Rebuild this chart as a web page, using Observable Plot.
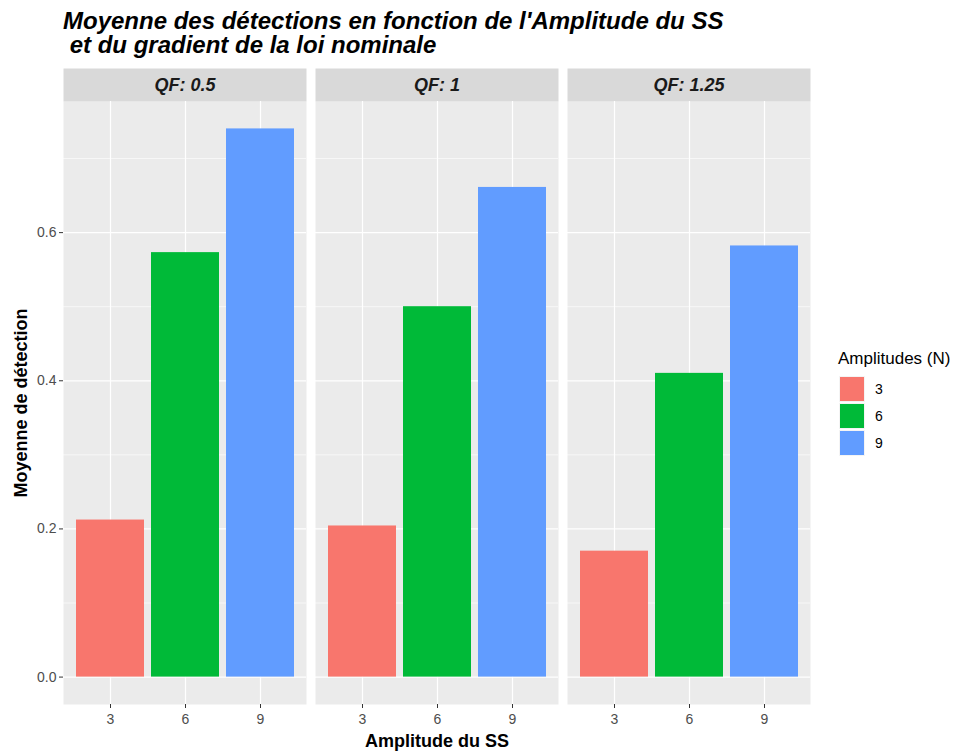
<!DOCTYPE html>
<html>
<head>
<meta charset="utf-8">
<script src="https://cdn.jsdelivr.net/npm/d3@7"></script>
<script src="https://cdn.jsdelivr.net/npm/@observablehq/plot@0.6"></script>
<style>
  html, body { margin: 0; padding: 0; background: #fff; }
  body { width: 957px; height: 754px; position: relative; overflow: hidden; font-family: "Liberation Sans", Arial, sans-serif; }
  #title { position: absolute; left: 63px; top: 9px; font-size: 24px; line-height: 24px; font-weight: bold; font-style: italic; color: #000; white-space: pre; }
  #chart { position: absolute; left: 0; top: 62px; }
  #legend { position: absolute; left: 838px; top: 348px; }
  #legend .lt { font-size: 17px; color: #000; height: 22px; line-height: 22px; margin-bottom: 5px; }
  #legend .row { display: flex; align-items: center; height: 27px; }
  #legend .sw { width: 26px; height: 26px; margin-left: 1px; box-sizing: border-box; border: 1px solid #f4f4f4; }
  #legend .lb { font-size: 14px; color: #000; margin-left: 10px; }
</style>
</head>
<body>
<div id="title"></div>
<div id="chart"></div>
<div id="legend"></div>
<script>
// ---- data ----
const qfLabels = ["0.5", "1", "1.25"];
const amplitudes = [3, 6, 9];
const colors = ["#F8766D", "#00BA38", "#619CFF"];
const valuesQF05 = [0.212, 0.573, 0.740];
const valuesQF1 = [0.204, 0.500, 0.661];
const valuesQF125 = [0.170, 0.410, 0.582];
const yTicks = [0, 0.2, 0.4, 0.6];
const yMinorTicks = [0.1, 0.3, 0.5, 0.7];
const titleText = "Moyenne des détections en fonction de l'Amplitude du SS\n et du gradient de la loi nominale";
const xTitle = "Amplitude du SS";
const yTitle = "Moyenne de détection";
const legendTitle = "Amplitudes (N)";

const seriesByQF = [valuesQF05, valuesQF1, valuesQF125];
const data = [];
qfLabels.forEach((qf, i) => amplitudes.forEach((a, j) => data.push({qf, amp: a, value: seriesByQF[i][j]})));

document.getElementById("title").textContent = titleText;

// layout
const W = 957, H = 692, mT = 39, mB = 50, mL = 62, mR = 146;
const panelH = H - mT - mB;
const stripH = 33;
const maxV = d3.max(data, d => d.value);
const yDomain = [-0.05 * maxV, maxV * 1.05];

const chart = Plot.plot({
  width: W, height: H,
  marginTop: mT, marginBottom: mB, marginLeft: mL, marginRight: mR,
  style: { fontFamily: "Liberation Sans, Arial, sans-serif", background: "transparent" },
  fx: { domain: qfLabels, padding: 0.0368, axis: null, label: null },
  x: { domain: amplitudes, paddingInner: 0.1, paddingOuter: 0.15, label: null },
  y: { domain: yDomain, label: null },
  color: { domain: amplitudes, range: colors },
  marks: [
    Plot.frame({ fill: "#EBEBEB", stroke: null }),
    Plot.frame({ fill: "#D9D9D9", stroke: null, insetTop: -stripH, insetBottom: panelH }),
    Plot.gridY(yMinorTicks, { stroke: "#ffffff", strokeOpacity: 1, strokeWidth: 0.6 }),
    Plot.gridY(yTicks, { stroke: "#ffffff", strokeOpacity: 1, strokeWidth: 1.2 }),
    Plot.gridX(amplitudes, { stroke: "#ffffff", strokeOpacity: 1, strokeWidth: 1.2 }),
    Plot.barY(data, { fx: "qf", x: "amp", y: "value", fill: d => d.amp }),
    Plot.axisY(yTicks, { anchor: "left", tickFormat: d3.format(".1f"), tickSize: 4, tickPadding: 3, fontSize: 14, fill: "#4D4D4D", stroke: "#333333", label: null }),
    Plot.axisX(amplitudes, { anchor: "bottom", tickSize: 4, tickPadding: 6, fontSize: 14, fill: "#4D4D4D", stroke: "#333333", label: null }),
    Plot.text(qfLabels, { fx: d => d, text: d => "QF: " + d, frameAnchor: "top", lineAnchor: "middle", dy: -stripH / 2, fontSize: 18, fontWeight: "bold", fontStyle: "italic", fill: "#1A1A1A" }),
    Plot.text([xTitle], { fx: () => qfLabels[1], text: d => d, frameAnchor: "bottom", lineAnchor: "middle", dy: 37, fontSize: 18, fontWeight: "bold", fill: "#000" }),
    Plot.text([yTitle], { fx: () => qfLabels[0], text: d => d, frameAnchor: "left", textAnchor: "middle", lineAnchor: "middle", dx: -42, rotate: -90, fontSize: 18, fontWeight: "bold", fill: "#000" })
  ]
});
document.getElementById("chart").appendChild(chart);

// legend
const lg = document.getElementById("legend");
const t = document.createElement("div"); t.className = "lt"; t.textContent = legendTitle; lg.appendChild(t);
amplitudes.forEach((a, i) => {
  const r = document.createElement("div"); r.className = "row";
  const s = document.createElement("div"); s.className = "sw"; s.style.background = colors[i];
  const l = document.createElement("div"); l.className = "lb"; l.textContent = a;
  r.appendChild(s); r.appendChild(l); lg.appendChild(r);
});
</script>
</body>
</html>
